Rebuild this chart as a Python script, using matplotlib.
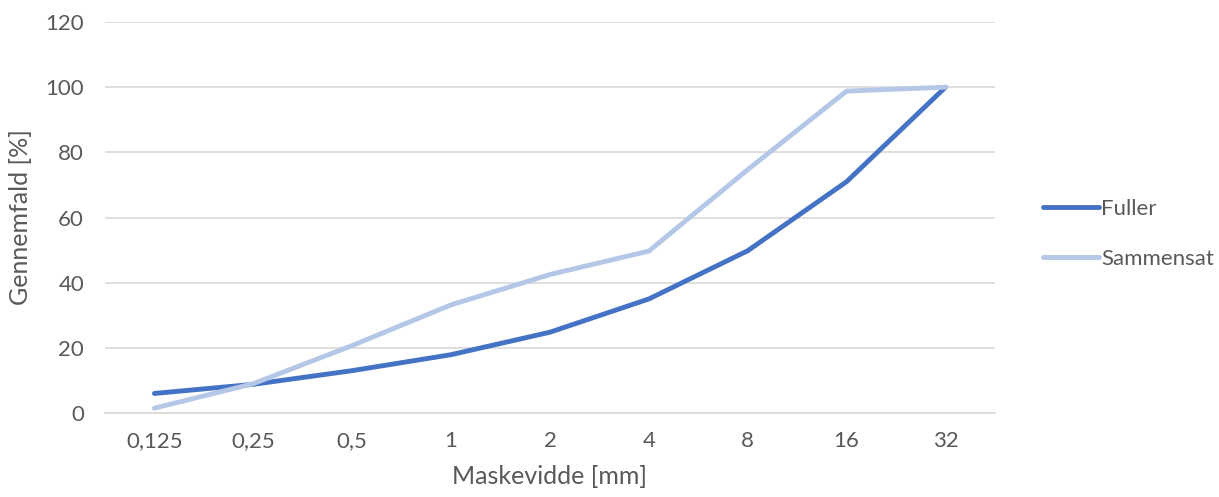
import matplotlib.pyplot as plt
import numpy as np

# data
sizes = ['0,125', '0,25', '0,5', '1', '2', '4', '8', '16', '32']
fuller = [6.0, 8.8, 13.0, 17.9, 24.8, 35.0, 49.8, 71.0, 100.0]
sammensat = [1.5, 9.0, 20.7, 33.2, 42.5, 49.7, 74.7, 98.8, 100.0]

plt.rcParams['font.family'] = ['Lato', 'DejaVu Sans']
txt_color = '#595959'
grid_color = '#D9D9D9'

fig = plt.figure(figsize=(12.19, 4.97), dpi=100)
ax = fig.add_axes([0.0861, 0.169, 0.7301, 0.7867])

x = np.arange(len(sizes))
ax.plot(x, fuller, color='#4472C4', lw=3.5, solid_capstyle='round',
        solid_joinstyle='round', label='Fuller', zorder=3)
ax.plot(x, sammensat, color='#B4C7E7', lw=3.5, solid_capstyle='round',
        solid_joinstyle='round', label='Sammensat', zorder=3)

ax.set_xlim(-0.5, len(sizes) - 0.5)
ax.set_ylim(0, 120)
ax.set_yticks(np.arange(0, 121, 20))
ax.set_xticks(x)
ax.set_xticklabels(sizes)

ax.grid(axis='y', color=grid_color, lw=1.2)
ax.set_axisbelow(True)
for s in ['top', 'right', 'left']:
    ax.spines[s].set_visible(False)
ax.spines['bottom'].set_color(grid_color)
ax.spines['bottom'].set_linewidth(1.2)
ax.tick_params(axis='both', length=0, labelsize=16, colors=txt_color)
ax.tick_params(axis='x', pad=13)
ax.tick_params(axis='y', pad=15)

ax.set_xlabel('Maskevidde [mm]', fontsize=18, color=txt_color, labelpad=10)
ax.set_ylabel('Gennemfald [%]', fontsize=18, color=txt_color, labelpad=10)

leg = fig.legend(loc='center left', bbox_to_anchor=(0.8556, 0.529),
                 bbox_transform=fig.transFigure, frameon=False,
                 fontsize=16, handlelength=2.5, handletextpad=0.12,
                 labelspacing=1.35, borderpad=0, borderaxespad=0,
                 labelcolor=txt_color)

plt.savefig('out.png', dpi=100)
